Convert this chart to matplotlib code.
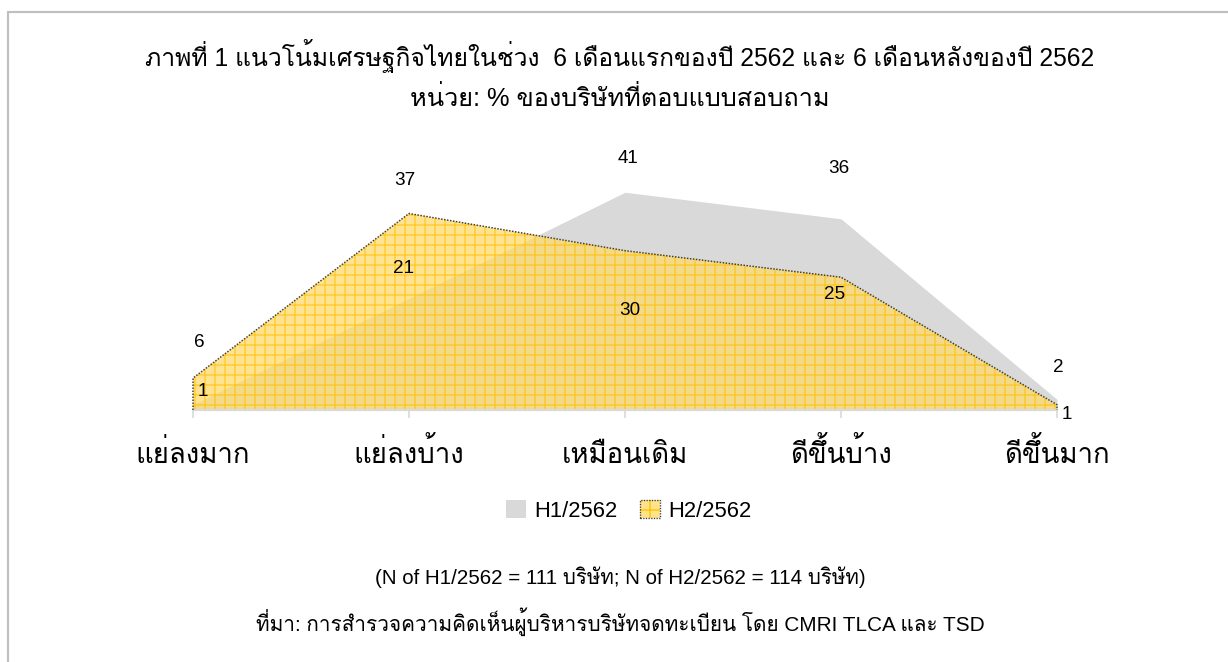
import matplotlib
matplotlib.use("Agg")
import matplotlib.pyplot as plt
from matplotlib.patches import Patch, Rectangle
from matplotlib.legend_handler import HandlerTuple

# data
categories = ["แย่ลงมาก", "แย่ลงบ้าง", "เหมือนเดิม", "ดีขึ้นบ้าง", "ดีขึ้นมาก"]
h1 = [1, 21, 41, 36, 2]
h2 = [6, 37, 30, 25, 1]
series_names = ["H1/2562", "H2/2562"]
title1 = "ภาพที่ 1 แนวโน้มเศรษฐกิจไทยในช่วง  6 เดือนแรกของปี 2562 และ 6 เดือนหลังของปี 2562"
title2 = "หน่วย: % ของบริษัทที่ตอบแบบสอบถาม"
note_n = "(N of H1/2562 = 111 บริษัท; N of H2/2562 = 114 บริษัท)"
note_src = "ที่มา: การสำรวจความคิดเห็นผู้บริหารบริษัทจดทะเบียน โดย CMRI TLCA และ TSD"

# label offsets in pixels (dx, dy), as Excel placed them
h1_off = [(10, 13), (-6, 30), (3, 34), (-2, 50), (1, 32)]
h2_off = [(6, 36), (-4, 33), (5, -60), (-6, -17), (10, -10)]

plt.rcParams['font.family'] = ['Liberation Sans', 'Loma', 'DejaVu Sans']
plt.rcParams['hatch.linewidth'] = 0.8

W, H, DPI = 1228, 662, 120
fig = plt.figure(figsize=(W / DPI, H / DPI), dpi=DPI)
ax = fig.add_axes([193 / W, 1 - 410 / H, (1057 - 193) / W, 239 / H])

x = list(range(len(categories)))
gray = "#D9D9D9"
ax.fill_between(x, 0, h1, color=gray, lw=0, zorder=1)
ax.fill_between(x, 0, h2, facecolor="#FFD966", edgecolor="#FFC000", hatch="++",
                lw=0, alpha=0.72, zorder=2)
# dotted outline of H2 (without the bottom side)
ax.plot([x[0]] + x + [x[-1]], [0] + h2 + [0], ls=(0, (1, 1)), color="#404040",
        lw=0.9, zorder=3, clip_on=False)

for xi, v, (dx, dy) in zip(x, h1, h1_off):
    ax.annotate(str(v), (xi, v), xytext=(dx, dy), textcoords="offset pixels",
                ha="center", va="center", fontsize=11.3, color="black", annotation_clip=False)
for xi, v, (dx, dy) in zip(x, h2, h2_off):
    ax.annotate(str(v), (xi, v), xytext=(dx, dy), textcoords="offset pixels",
                ha="center", va="center", fontsize=11.3, color="black", annotation_clip=False)

ax.set_xlim(0, 4)
ax.set_ylim(0, 45)
ax.set_xticks(x)
ax.set_xticklabels(categories, fontsize=16.5)
for lab in ax.get_xticklabels():
    lab.set_verticalalignment("baseline")  # keep the Thai baselines level
ax.set_yticks([])
for s in ["top", "right", "left"]:
    ax.spines[s].set_visible(False)
ax.spines["bottom"].set_color(gray)
ax.spines["bottom"].set_linewidth(1.3)
ax.tick_params(axis="x", length=5, width=1, color=gray, pad=27)
ax.patch.set_visible(False)

fig.text(620 / W, 1 - 56 / H, title1, ha="center", va="center", fontsize=14.8)
fig.text(620 / W, 1 - 98 / H, title2, ha="center", va="center", fontsize=15.2)
fig.text(620 / W, 1 - 577 / H, note_n, ha="center", va="center", fontsize=12.3)
fig.text(620 / W, 1 - 622 / H, note_src, ha="center", va="center", fontsize=12.45)

key_h1 = Patch(facecolor=gray, edgecolor="none")
key_h2 = (Patch(facecolor="#FFE38A", edgecolor="#FFC000", hatch="+", lw=0),
          Patch(fill=False, edgecolor="#404040", ls=(0, (1, 1)), lw=0.8))
fig.legend([key_h1, key_h2], series_names, loc="center", bbox_to_anchor=(629 / W, 1 - 511 / H),
           ncol=2, frameon=False, fontsize=13.2, handlelength=0.9, handleheight=0.9,
           handletextpad=0.4, columnspacing=1.0,
           handler_map={tuple: HandlerTuple(ndivide=1, pad=0)})

# outer chart frame (right and bottom edges are cut off)
fig.patches.append(Rectangle((7.5 / W, -0.1), 1.2, 1.1 - 12 / H, transform=fig.transFigure,
                             fill=False, ec="#BFBFBF", lw=1.3))

fig.savefig("out.png", dpi=DPI)
